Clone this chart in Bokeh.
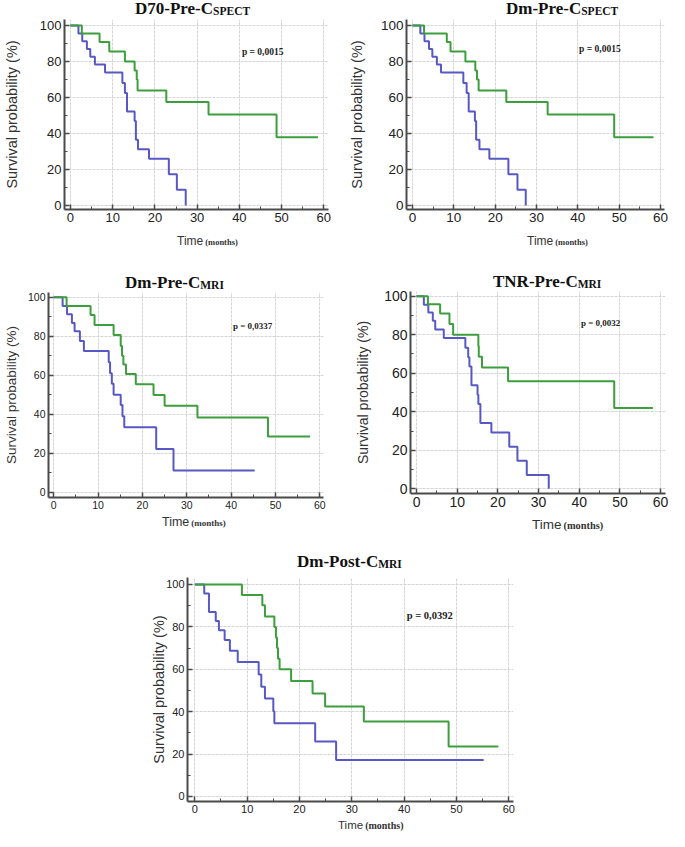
from bokeh.plotting import figure
from bokeh.models import Label, SingleIntervalTicker, Range1d, Div
from bokeh.layouts import column, row
from bokeh.embed import file_html
from bokeh.resources import INLINE

# ---------------- data ----------------
titles = ["D70-Pre-C", "Dm-Pre-C", "Dm-Pre-C", "TNR-Pre-C", "Dm-Post-C"]
subscripts = ["SPECT", "SPECT", "MRI", "MRI", "MRI"]
p_values = ["p = 0,0015", "p = 0,0015", "p = 0,0337", "p = 0,0032", "p = 0,0392"]
y_label = "Survival probability (%)"
x_label_main = "Time"
x_label_unit = "(months)"

g1_t = [0, 2.7, 6.9, 9.2, 12.9, 15.2, 15.7, 15.9, 22.7, 32.7, 48.8, 58.6]
g1_s = [100, 95.5, 90.9, 85.5, 80.0, 75.0, 70.0, 63.9, 57.5, 50.5, 37.9, 37.9]
b1_t = [0, 1.9, 2.8, 3.9, 4.7, 5.8, 8.2, 12.3, 12.9, 13.4, 15.2, 15.5, 16.0, 18.6, 23.3, 25.2, 27.3]
b1_s = [100, 95.6, 91.3, 87.0, 82.6, 78.3, 73.9, 68.0, 62.5, 52.2, 47.0, 36.5, 31.3, 26.0, 17.4, 8.7, 0]

g2_t = [0, 2.8, 8.3, 9.2, 12.8, 15.2, 15.6, 16.0, 22.7, 32.7, 48.8, 58.3]
g2_s = [100, 95.5, 90.9, 85.5, 80.0, 75.0, 70.0, 63.9, 57.5, 50.5, 37.9, 37.9]
b2_t = [0, 1.9, 2.9, 4.0, 4.8, 5.9, 6.9, 12.3, 13.1, 13.6, 15.1, 15.4, 16.2, 18.6, 23.2, 25.4, 27.4]
b2_s = [100, 95.6, 91.3, 87.0, 82.6, 78.3, 73.9, 68.0, 62.5, 52.2, 47.0, 36.5, 31.3, 26.0, 17.4, 8.7, 0]

g3_t = [0, 2.9, 8.3, 9.2, 13.5, 15.1, 15.4, 15.7, 16.3, 18.5, 22.5, 25.0, 32.4, 48.3, 57.8]
g3_s = [100, 95.5, 90.9, 85.8, 80.6, 75.0, 70.0, 65.5, 60.6, 55.3, 49.9, 44.3, 38.3, 28.5, 28.5]
b3_t = [0, 2.0, 3.0, 4.1, 4.7, 5.9, 6.8, 12.4, 12.7, 13.1, 13.5, 15.1, 15.5, 15.9, 23.1, 27.0, 45.3]
b3_s = [100, 95.5, 91.2, 86.8, 82.5, 77.5, 72.4, 66.7, 61.0, 55.6, 50.0, 44.7, 39.0, 33.3, 22.1, 11.1, 11.1]

g4_t = [0, 2.8, 5.8, 8.1, 9.0, 15.2, 15.3, 16.1, 22.5, 48.6, 58.1]
g4_s = [100, 95.8, 91.0, 85.6, 80.0, 74.2, 68.6, 63.0, 55.8, 42.0, 42.0]
b4_t = [0, 1.8, 2.9, 4.0, 4.6, 6.7, 12.0, 12.7, 13.0, 13.5, 15.0, 15.2, 15.7, 18.4, 22.8, 24.8, 27.1, 32.5]
b4_s = [100, 95.6, 91.5, 87.2, 82.7, 78.3, 73.2, 68.3, 63.5, 53.8, 48.8, 44.0, 34.1, 29.2, 21.8, 14.6, 7.2, 0]

g5_t = [0, 9.0, 12.9, 13.4, 15.2, 15.5, 15.7, 15.9, 16.2, 18.4, 22.5, 24.9, 32.3, 48.5, 58.0]
g5_s = [100, 95.0, 90.2, 84.9, 80.0, 75.0, 70.0, 65.0, 60.0, 54.5, 48.6, 42.5, 35.4, 23.6, 23.6]
b5_t = [0, 1.8, 2.7, 4.0, 4.6, 5.7, 6.7, 8.2, 12.2, 12.7, 13.4, 15.0, 15.2, 23.0, 27.0, 55.2]
b5_s = [100, 95.7, 87.0, 82.8, 78.4, 73.8, 68.7, 63.5, 57.5, 51.8, 46.2, 40.2, 34.5, 25.9, 17.2, 17.2]

greens = [(g1_t, g1_s), (g2_t, g2_s), (g3_t, g3_s), (g4_t, g4_s), (g5_t, g5_s)]
blues = [(b1_t, b1_s), (b2_t, b2_s), (b3_t, b3_s), (b4_t, b4_s), (b5_t, b5_s)]

# ---------------- layout / style specs ----------------
GREEN = "#3c9e3c"
BLUE = "#5858c4"
AXIS = "#4a4a4a"

specs = [
    dict(w=334, th=18, fh=214, xh=16, bl=60, br=6, bt=1, bb=23, xr=(-1.4, 61.1), yr=(-2.22, 103.33),
         tick="13px", ylab="14.5px", ys=17, tl=135, tt=0,
         xl=177, xt=3, tfs="12px", mfs="8.5px", px=40.6, py=85.3, pf="9.5px"),
    dict(w=335, th=18, fh=214, xh=16, bl=72, br=5, bt=1, bb=23, xr=(-1.45, 60.97), yr=(-2.22, 103.33),
         tick="13.5px", ylab="14.5px", ys=13, tl=172, tt=0,
         xl=193, xt=3, tfs="12px", mfs="8.5px", px=40.3, py=87.0, pf="9.5px"),
    dict(w=334, th=42, fh=224, xh=16, bl=44, br=11, bt=2, bb=17, xr=(-1.18, 60.82), yr=(-2.72, 102.41),
         tick="10.5px", ylab="13.5px", ys=6, tl=125, tt=26,
         xl=162, xt=2, tfs="12.5px", mfs="9px", px=40.4, py=85.0, pf="9px"),
    dict(w=335, th=41, fh=226, xh=15, bl=76, br=4, bt=2, bb=22, xr=(-1.48, 61.2), yr=(-2.44, 102.44),
         tick="14px", ylab="14px", ys=10, tl=159, tt=24.5,
         xl=198, xt=3, tfs="13.5px", mfs="10.4px", px=40.4, py=86.3, pf="9px"),
    dict(w=669, th=45, fh=242, xh=14, bl=187, br=156, bt=2, bb=16, xr=(-1.4, 60.9), yr=(-2.36, 103.3),
         tick="11px", ylab="14.5px", ys=-4, tl=297, tt=23,
         xl=338, xt=1.5, tfs="11.5px", mfs="10px", px=40.5, py=85.2, pf="10.5px"),
]


def text_div(w, h, left, top, html):
    inner = ('<div style="position:relative;width:%dpx;height:%dpx;overflow:visible;">'
             '<div style="position:absolute;left:%spx;top:%spx;white-space:nowrap;line-height:1;">%s</div>'
             '</div>') % (w, h, left, top, html)
    return Div(text=inner, width=w, height=h, margin=0)


def make_panel(i):
    s = specs[i]
    p = figure(width=s["w"], height=s["fh"], output_backend="svg", toolbar_location=None,
               x_range=Range1d(*s["xr"]), y_range=Range1d(*s["yr"]),
               min_border_left=s["bl"], min_border_right=s["br"],
               min_border_top=s["bt"], min_border_bottom=s["bb"], title=None)
    p.outline_line_color = None
    p.background_fill_color = "white"
    p.border_fill_color = "white"

    p.xaxis.ticker = SingleIntervalTicker(interval=10, num_minor_ticks=2)
    p.yaxis.ticker = SingleIntervalTicker(interval=20, num_minor_ticks=2)
    for ax in (p.xaxis[0], p.yaxis[0]):
        ax.axis_line_color = AXIS
        ax.axis_line_width = 2
        ax.major_tick_line_color = AXIS
        ax.minor_tick_line_color = AXIS
        ax.major_tick_line_width = 1.5
        ax.major_tick_in = 5
        ax.major_tick_out = 0
        ax.minor_tick_in = 3
        ax.minor_tick_out = 0
        ax.major_label_text_font = "Liberation Sans"
        ax.major_label_text_font_size = s["tick"]
        ax.major_label_text_color = "#222222"
        ax.major_label_standoff = 3
    p.yaxis.axis_label = y_label
    p.yaxis.axis_label_text_font = "Liberation Sans"
    p.yaxis.axis_label_text_font_style = "normal"
    p.yaxis.axis_label_text_font_size = s["ylab"]
    p.yaxis.axis_label_text_color = "#333333"
    p.yaxis.axis_label_standoff = s["ys"]

    for g in (p.xgrid[0], p.ygrid[0]):
        g.grid_line_color = "#d4d4d4"
        g.grid_line_width = 1
        g.grid_line_dash = "3 1"

    gt, gs = greens[i]
    bt, bs = blues[i]
    p.step(bt, bs, mode="after", line_color=BLUE, line_width=2)
    p.step(gt, gs, mode="after", line_color=GREEN, line_width=2)

    p.add_layout(Label(x=s["px"], y=s["py"], text=p_values[i], text_align="left",
                       text_baseline="middle", text_font="Liberation Serif",
                       text_font_style="bold", text_font_size=s["pf"], text_color="#222222"))

    title_html = ('<span style="font-family:\'Liberation Serif\';font-weight:bold;font-size:17px;color:#111;">'
                  '%s<span style="font-size:11.5px;position:relative;top:1px;">%s</span></span>'
                  % (titles[i], subscripts[i]))
    xlab_html = ('<span style="font-family:\'Liberation Sans\';font-size:%s;color:#333;">%s</span>'
                 '<span style="font-family:\'Liberation Serif\';font-weight:bold;font-size:%s;'
                 'color:#333;margin-left:2px;">%s</span>'
                 % (s["tfs"], x_label_main, s["mfs"], x_label_unit))
    tdiv = text_div(s["w"], s["th"], s["tl"], s["tt"], title_html)
    xdiv = text_div(s["w"], s["xh"], s["xl"], s["xt"], xlab_html)
    return column(tdiv, p, xdiv, spacing=0)


panels = [make_panel(i) for i in range(5)]
layout = column(row(panels[0], panels[1], spacing=0),
                row(panels[2], panels[3], spacing=0),
                panels[4], spacing=0)

open("out.html", "w").write(file_html(layout, INLINE))
